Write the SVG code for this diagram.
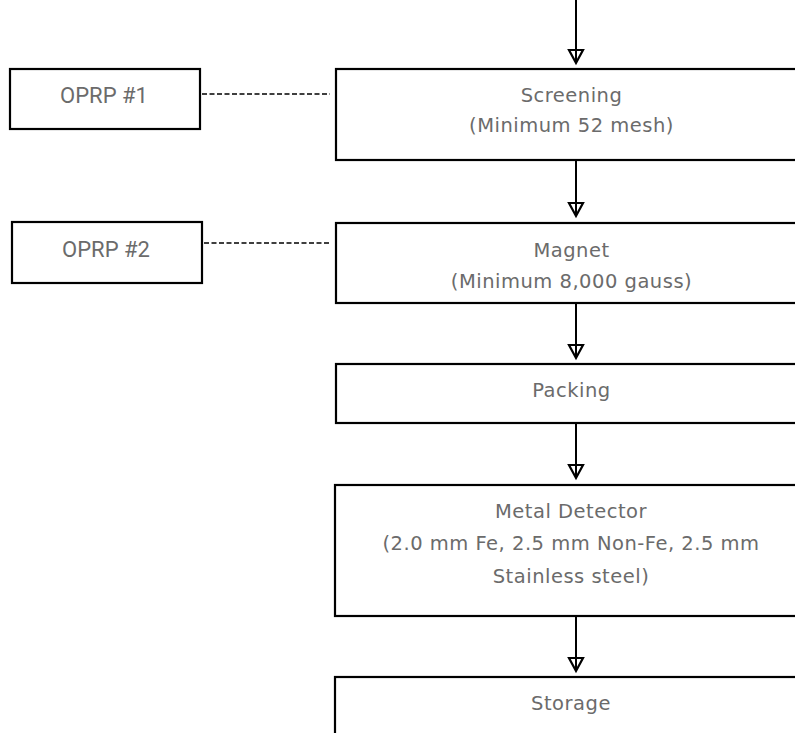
<svg xmlns="http://www.w3.org/2000/svg" width="795" height="733" viewBox="0 0 795 733">
<style>
.box{fill:#fff;stroke:#000;stroke-width:2.2}
.t{font-family:"DejaVu Sans",sans-serif;font-size:19.5px;fill:#6b6b6b;text-anchor:middle;letter-spacing:0.5px}
.o{font-family:Roboto,"Liberation Sans",sans-serif;font-size:22px;fill:#6b6b6b;text-anchor:middle}
.ln{stroke:#000;stroke-width:2;fill:none}
.dash{stroke:#000;stroke-width:1.5;stroke-dasharray:5 2.5;fill:none}
.head{fill:#fff;stroke:#000;stroke-width:2.2;stroke-linejoin:miter}
</style>
<defs>
<path id="ah" d="M-7,-13 L7,-13 L0,0 Z"/>
</defs>
<g id="connectors">
<line class="ln" x1="576" y1="0" x2="576" y2="63"/>
<use href="#ah" class="head" x="576" y="63"/>
<line class="ln" x1="576" y1="63" x2="576" y2="50"/>
<line class="ln" x1="576" y1="160" x2="576" y2="216"/>
<use href="#ah" class="head" x="576" y="216"/>
<line class="ln" x1="576" y1="203" x2="576" y2="216"/>
<line class="ln" x1="576" y1="303" x2="576" y2="358"/>
<use href="#ah" class="head" x="576" y="358"/>
<line class="ln" x1="576" y1="345" x2="576" y2="358"/>
<line class="ln" x1="576" y1="423" x2="576" y2="478"/>
<use href="#ah" class="head" x="576" y="478"/>
<line class="ln" x1="576" y1="465" x2="576" y2="478"/>
<line class="ln" x1="576" y1="616" x2="576" y2="671"/>
<use href="#ah" class="head" x="576" y="671"/>
<line class="ln" x1="576" y1="658" x2="576" y2="671"/>
<line class="dash" x1="202" y1="94" x2="330" y2="94"/>
<line class="dash" x1="204" y1="243" x2="330" y2="243"/>
</g>
<g id="oprp1">
<rect class="box" x="10" y="69" width="190" height="60"/>
<text class="o" x="104" y="103">OPRP #1</text>
</g>
<g id="oprp2">
<rect class="box" x="12" y="222" width="190" height="61"/>
<text class="o" x="106" y="257">OPRP #2</text>
</g>
<g id="screening">
<rect class="box" x="336" y="69" width="480" height="91"/>
<text class="t" x="571.5" y="102">Screening</text>
<text class="t" x="571.5" y="132">(Minimum 52 mesh)</text>
</g>
<g id="magnet">
<rect class="box" x="336" y="223" width="480" height="80"/>
<text class="t" x="571.5" y="257">Magnet</text>
<text class="t" x="571.5" y="288">(Minimum 8,000 gauss)</text>
</g>
<g id="packing">
<rect class="box" x="336" y="364" width="480" height="59"/>
<text class="t" x="571.5" y="397">Packing</text>
</g>
<g id="metal">
<rect class="box" x="335" y="485" width="480" height="131"/>
<text class="t" x="571" y="518">Metal Detector</text>
<text class="t" x="571" y="550">(2.0 mm Fe, 2.5 mm Non-Fe, 2.5 mm</text>
<text class="t" x="571" y="583">Stainless steel)</text>
</g>
<g id="storage">
<rect class="box" x="335" y="677" width="480" height="80"/>
<text class="t" x="571" y="710">Storage</text>
</g>
</svg>
